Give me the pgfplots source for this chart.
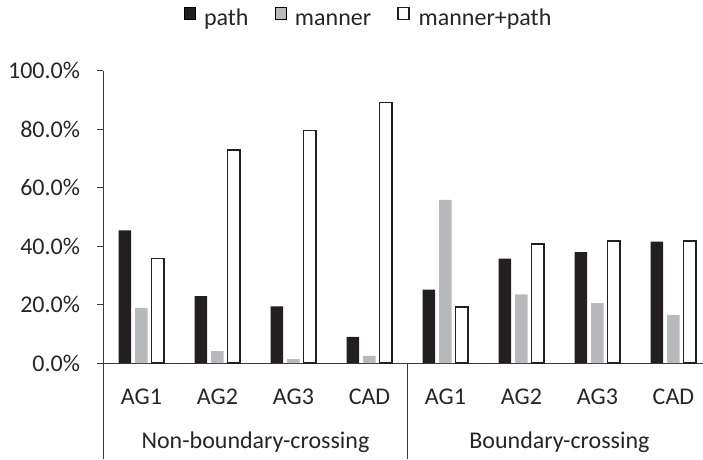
\documentclass[border=0pt]{standalone}
\usepackage{fontspec}
\setmainfont{Carlito}
\usepackage{pgfplots}
\pgfplotsset{compat=1.18}
\usetikzlibrary{calc}
\definecolor{barblack}{HTML}{231F20}
\definecolor{bargray}{HTML}{B8B9BC}
\definecolor{axisgray}{HTML}{3A3A3A}
\newcommand{\fs}{\fontsize{24}{28}\selectfont}
\begin{document}
\begin{tikzpicture}
\begin{axis}[
  scale only axis, width=599.6pt, height=292.3pt,
  xmin=-0.5, xmax=7.39, ymin=0, ymax=100,
  clip=false,
  axis x line=bottom, axis y line=left,
  axis line style={-, axisgray, line width=1pt},
  xtick={0,...,7},
  xticklabels={AG1,AG2,AG3,CAD,AG1,AG2,AG3,CAD},
  xtick style={draw=none},
  xticklabel style={anchor=center, yshift=-28pt},
  ytick={0,20,40,60,80,100},
  yticklabel={\pgfmathprintnumber[fixed,fixed zerofill,precision=1]{\tick}\%},
  /pgf/number format/assume math mode=true,
  tick align=outside, major tick length=6pt,
  ytick style={axisgray, line width=1pt},
  yticklabel style={xshift=-14pt},
  tick label style={font=\fs, text=black!85},
  legend style={at={(0.4403,1)}, anchor=center, yshift=52pt, draw=none,
    font=\fs, legend columns=3,
    nodes={inner sep=0pt, text height=17pt, text depth=5pt, text=black!85},
    /tikz/every odd column/.append style={column sep=9pt},
    /tikz/every even column/.append style={column sep=26pt}},
  legend image code/.code={\draw[#1] (0pt,0pt) rectangle (11pt,12pt);},
]
\addplot[ybar, bar width=12.5pt, bar shift=-16.5pt, fill=barblack, draw=none]
  coordinates {(0,45.4) (1,22.9) (2,19.4) (3,8.9) (4,25.1) (5,35.7) (6,37.9) (7,41.5)};
\addplot[ybar, bar width=12.5pt, bar shift=0pt, fill=bargray, draw=none]
  coordinates {(0,18.9) (1,4.1) (2,1.3) (3,2.4) (4,55.8) (5,23.5) (6,20.5) (7,16.5)};
\addplot[ybar, bar width=12.5pt, bar shift=16.5pt, fill=white, draw=barblack, line width=1.5pt]
  coordinates {(0,35.7) (1,72.9) (2,79.6) (3,89.1) (4,19.2) (5,40.7) (6,41.7) (7,41.7)};
\legend{path,manner,manner+path}
\coordinate (O) at (axis cs:-0.5,0);
\coordinate (S) at (axis cs:3.5,0);
\coordinate (G1) at (axis cs:1.5,0);
\coordinate (G2) at (axis cs:5.5,0);
\end{axis}
\draw[axisgray, line width=1pt] (O) -- ++(0,-96pt);
\draw[axisgray, line width=1pt] (S) -- ++(0,-96pt);
\node[font=\fs, text=black!85] at ($(G1)+(0,-79pt)$) {Non-boundary-crossing};
\node[font=\fs, text=black!85] at ($(G2)+(0,-79pt)$) {Boundary-crossing};
\pgfresetboundingbox
\path[use as bounding box] ($(O)+(-103.5pt,-96pt)$) rectangle ($(O)+(599.5pt,363pt)$);
\end{tikzpicture}
\end{document}
